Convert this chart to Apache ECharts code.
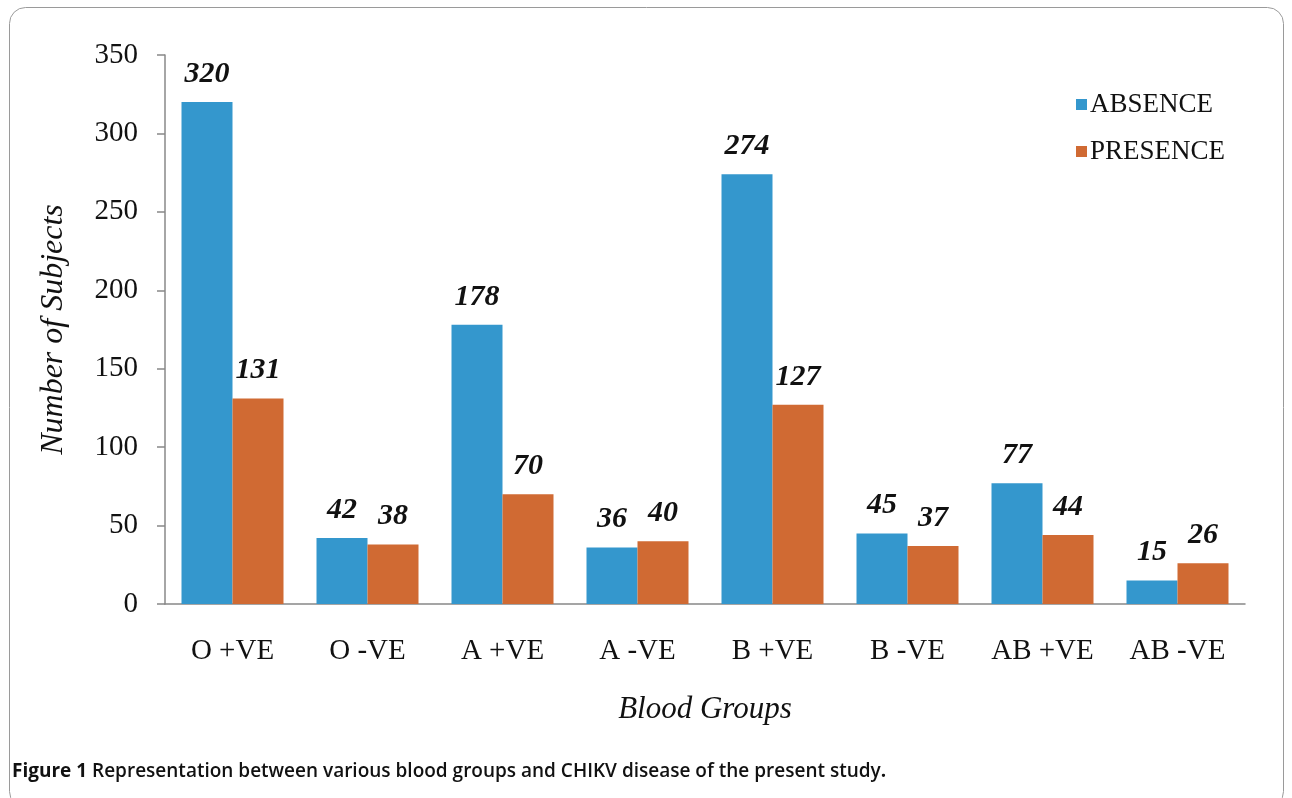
<!DOCTYPE html>
<html>
<head>
<meta charset="utf-8">
<script src="https://cdn.jsdelivr.net/npm/echarts@6/dist/echarts.min.js"></script>
<style>
html,body{margin:0;padding:0;background:#fff;}
#c{width:1292px;height:798px;}
</style>
</head>
<body>
<div id="c"></div>
<script>
const categories = ['O +VE','O -VE','A +VE','A -VE','B +VE','B -VE','AB +VE','AB -VE'];
const absence = [320, 42, 178, 36, 274, 45, 77, 15];
const presence = [131, 38, 70, 40, 127, 37, 44, 26];
const seriesNames = ['ABSENCE', 'PRESENCE'];
const yTicks = {min: 0, max: 350, interval: 50};

const serif = '"Liberation Serif", "DejaVu Serif", serif';
const sans = '"Open Sans", "Noto Sans", sans-serif';
const chart = echarts.init(document.getElementById('c'));
const labelStyle = {show: true, position: 'top', distance: 13, fontFamily: serif, fontSize: 30, fontWeight: 'bold', fontStyle: 'italic', color: '#111'};
chart.setOption({
  animation: false,
  graphic: [{
    type: 'rect', shape: {x: 9.5, y: 7.5, width: 1274, height: 800, r: 16},
    style: {fill: 'none', stroke: '#9a9a9a', lineWidth: 1}, silent: true
  }],
  title: {
    text: '{b|Figure 1 }{n|Representation between various blood groups and CHIKV disease of the present study}{d|.}',
    left: 12, top: 762, padding: 0,
    textStyle: {
      rich: {
        b: {fontFamily: sans, fontWeight: 'bold', fontSize: 19, color: '#111'},
        n: {fontFamily: sans, fontWeight: 600, fontSize: 19, color: '#111'},
        d: {fontFamily: sans, fontSize: 19, color: '#111'}
      }
    }
  },
  legend: {
    orient: 'vertical', left: 1071, top: 86, itemWidth: 11, itemHeight: 11, itemGap: 20,
    icon: 'rect',
    textStyle: {fontFamily: serif, fontSize: 27, color: '#111', padding: [0, 0, 0, -2]},
    data: seriesNames
  },
  grid: {left: 165, right: 47, top: 55, bottom: 194, containLabel: false},
  xAxis: {
    type: 'category', data: categories,
    name: 'Blood Groups', nameLocation: 'middle', nameGap: 90,
    nameTextStyle: {fontFamily: serif, fontSize: 31, fontStyle: 'italic', color: '#111'},
    axisLine: {lineStyle: {color: '#888', width: 1.5}},
    axisTick: {show: false},
    axisLabel: {fontFamily: serif, fontSize: 29, color: '#111', margin: 33}
  },
  yAxis: {
    type: 'value', min: yTicks.min, max: yTicks.max, interval: yTicks.interval,
    name: 'Number of Subjects', nameLocation: 'middle', nameGap: 95,
    nameTextStyle: {fontFamily: serif, fontSize: 32, fontStyle: 'italic', color: '#111'},
    axisLine: {show: true, lineStyle: {color: '#888', width: 1.5}},
    axisTick: {show: true, length: 8, lineStyle: {color: '#888', width: 1.5}},
    splitLine: {show: false},
    axisLabel: {fontFamily: serif, fontSize: 29, color: '#111', margin: 27}
  },
  series: [
    {name: seriesNames[0], type: 'bar', data: absence, barWidth: 51, barGap: '0%',
     itemStyle: {color: '#3497cd'}, label: labelStyle},
    {name: seriesNames[1], type: 'bar', data: presence, barWidth: 51,
     itemStyle: {color: '#d06a33'}, label: labelStyle}
  ]
});
</script>
</body>
</html>
